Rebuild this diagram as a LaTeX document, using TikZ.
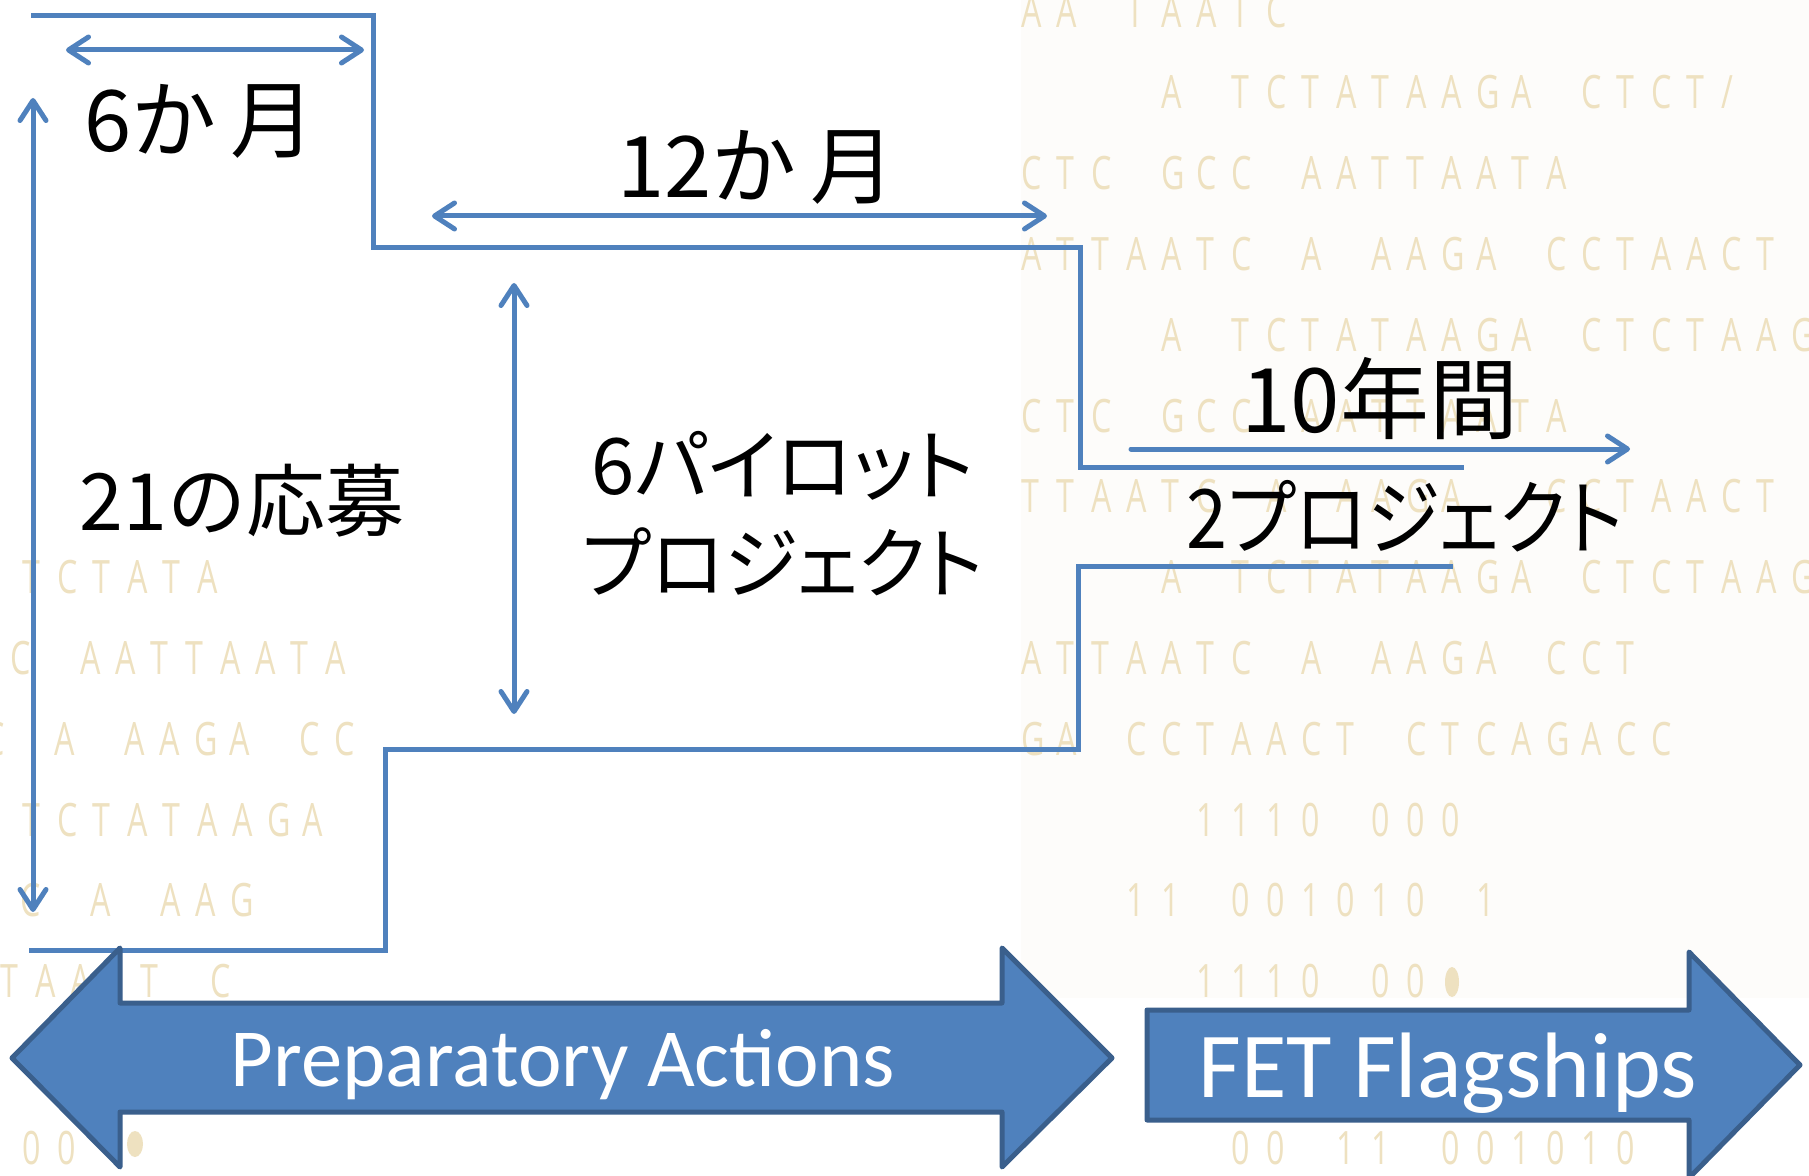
\documentclass[tikz,border=0pt]{standalone}
\usepackage{fontspec}
\newfontfamily\jpfont{Noto Sans CJK JP}
\newfontfamily\jpprop[RawFeature=+palt]{Noto Sans CJK JP}
\newfontfamily\labelfont{Carlito}
\newfontfamily\seqfont[FakeStretch=0.7]{Open Sans}
\usetikzlibrary{arrows.meta}
\definecolor{lineblue}{HTML}{4F81BD}
\definecolor{bandfill}{HTML}{4F81BD}
\definecolor{bandedge}{HTML}{3A5F8C}
\definecolor{seqcolor}{HTML}{EEE1C0}
\definecolor{paper}{HTML}{FDFCFA}

% one fixed-width cell per character, '.' leaves a blank cell
\newlength\seqpitch
\setlength\seqpitch{17.5pt}
\makeatletter
\def\seq@loop#1{\ifx\relax#1\else\if.#1\hspace*{\seqpitch}\else\makebox[\seqpitch][l]{#1}\fi\expandafter\seq@loop\fi}
\newcommand\seqrow[1]{\seq@loop#1\relax}
\makeatother

\begin{document}
\begin{tikzpicture}[x=0.5pt,y=-0.5pt,
  seq/.style={font=\seqfont\fontsize{23pt}{26pt}\selectfont, text=seqcolor, inner sep=0pt, anchor=base west},
  jp/.style={font=\jpfont\fontsize{#1}{#1}\selectfont, inner sep=0pt, anchor=base west},
  jpp/.style={font=\jpprop\fontsize{#1}{#1}\selectfont, inner sep=0pt, anchor=base west},
  dim/.style={draw=lineblue, line width=2.5pt, line cap=round},
  outline/.style={draw=lineblue, line width=2.5pt},
  band/.style={fill=bandfill, draw=bandedge, line width=2.5pt, line join=round},
  bandlabel/.style={font=\labelfont\fontsize{#1}{#1}\selectfont, text=white, inner sep=0pt, anchor=base},
  >={Straight Barb[length=10pt,width=13pt,round]}
]
\useasboundingbox (0,0) rectangle (1809,1176);
\fill[white] (0,0) rectangle (1809,1176);
\fill[paper] (1021,0) rectangle (1809,998);

% background sequence letters, right block
\node[seq] (sr0)  at (1021,28)    {\seqrow{AA.TAATC}};
\node[seq] (sr1)  at (1021,108.8) {\seqrow{....A.TCTATAAGA.CTCT/}};
\node[seq] (sr2)  at (1021,189.6) {\seqrow{CTC.GCC.AATTAATA}};
\node[seq] (sr3)  at (1021,270.4) {\seqrow{ATTAATC.A.AAGA.CCTAACT}};
\node[seq] (sr4)  at (1021,351.2) {\seqrow{....A.TCTATAAGA.CTCTAAG}};
\node[seq] (sr5)  at (1021,432)   {\seqrow{CTC.GCC.AATTAATA}};
\node[seq] (sr6)  at (1021,512.8) {\seqrow{TTAATC.A.AAGA..CCTAACT}};
\node[seq] (sr7)  at (1021,593.6) {\seqrow{....A.TCTATAAGA.CTCTAAG}};
\node[seq] (sr8)  at (1021,674.4) {\seqrow{ATTAATC.A.AAGA.CCT}};
\node[seq] (sr9)  at (1021,755.2) {\seqrow{GA.CCTAACT.CTCAGACC}};
\node[seq] (sr10) at (1021,836)   {\seqrow{.....1110.000}};
\node[seq] (sr11) at (1021,916.8) {\seqrow{...11.001010.1}};
\node[seq] (sr12) at (1021,997.6) {\seqrow{.....1110.00}};
\fill[seqcolor] (1452,982) ellipse [x radius=7, y radius=15];
\node[seq] (sr14) at (1021,1164)  {\seqrow{......00.11.001010}};

% background sequence letters, left block
\node[seq] (sl7)  at (22,593.6)  {\seqrow{TCTATA}};
\node[seq] (sl8)  at (10,674.4)  {\seqrow{C.AATTAATA}};
\node[seq] (sl9)  at (-16,755.2) {\seqrow{C.A.AAGA.CC}};
\node[seq] (sl10) at (22,836)    {\seqrow{TCTATAAGA}};
\node[seq] (sl11) at (20,916.8)  {\seqrow{C.A.AAG}};
\node[seq] (sl12) at (0,997.6)   {\seqrow{TAA.T.C}};
\node[seq] (sl14) at (22,1164)   {\seqrow{00}};
\fill[seqcolor] (135,1144) ellipse [x radius=8, y radius=13];

% staircase outlines
\coordinate (u0) at (31,16);
\coordinate (u1) at (373,16);
\coordinate (u2) at (373,248);
\coordinate (u3) at (1080,248);
\coordinate (u4) at (1080,467);
\coordinate (u5) at (1464,467);
\draw[outline] (u0) -- (u1) -- (u2) -- (u3) -- (u4) -- (u5);
\coordinate (l0) at (1453,566);
\coordinate (l1) at (1078,566);
\coordinate (l2) at (1078,749);
\coordinate (l3) at (385,749);
\coordinate (l4) at (385,950);
\coordinate (l5) at (29,950);
\draw[outline] (l0) -- (l1) -- (l2) -- (l3) -- (l4) -- (l5);

% duration and count arrows
\coordinate (a6l) at (66,50);   \coordinate (a6r) at (364,50);
\coordinate (a12l) at (432,216); \coordinate (a12r) at (1047,216);
\coordinate (a10l) at (1131,449); \coordinate (a10r) at (1630,449);
\coordinate (v21t) at (33,98);  \coordinate (v21b) at (33,912);
\coordinate (v6t) at (514,283); \coordinate (v6b) at (514,714);
\draw[dim,<->] (a6l) -- (a6r);
\draw[dim,<->] (a12l) -- (a12r);
\draw[dim,->] (a10l) -- (a10r);
\draw[dim,<->] (v21t) -- (v21b);
\draw[dim,<->] (v6t) -- (v6b);

% labels
\node[jp=42.5pt] (t6m)  at (84,152)   {6か\hspace{7pt}月};
\node[jp=42.5pt] (t12m) at (617,198)  {12か\hspace{7pt}月};
\node[jp=44.5pt] (t10y) at (1241,432) {10年間};
\node[jp=39.5pt] (t21)  at (79,530)   {21の応募};
\node[jpp=39pt, anchor=base] (t6pa) at (783,494) {6パイロット};
\node[jpp=39pt, anchor=base] (t6pb) at (783,592) {\scalebox{0.96}[1]{プロジェクト}};
\node[jpp=41pt]  (t2p)  at (1186,548) {\scalebox{0.9}[1]{2プロジェクト}};

% phase bands
\draw[band] (12,1058) -- (120,948) -- (120,1003) -- (1002,1003) -- (1002,948)
  -- (1112,1058) -- (1002,1167) -- (1002,1112) -- (120,1112) -- (120,1167) -- cycle;
\node[bandlabel=41.3pt] (prep) at (563,1086) {Preparatory Actions};
\draw[band] (1147,1010) -- (1689,1010) -- (1689,952) -- (1800,1065)
  -- (1689,1178) -- (1689,1120) -- (1147,1120) -- cycle;
\node[bandlabel=46.5pt] (fet) at (1448,1097) {FET Flagships};
\end{tikzpicture}
\end{document}
